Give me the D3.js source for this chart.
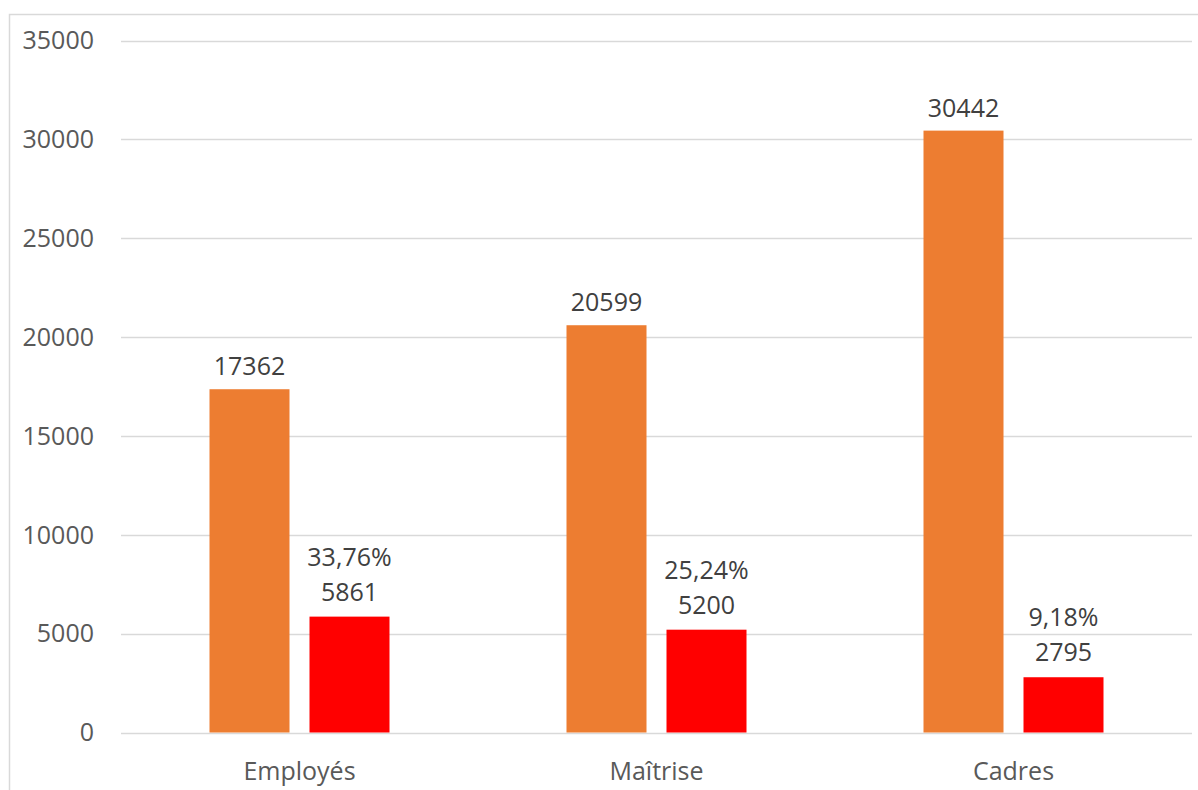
<!DOCTYPE html>
<html>
<head>
<meta charset="utf-8">
<script src="https://cdn.jsdelivr.net/npm/d3@7"></script>
<style>
  html, body { margin: 0; padding: 0; background: #fff; }
  svg { display: block; font-family: "Open Sans", "Noto Sans", sans-serif; }
</style>
</head>
<body>
<svg id="chart" width="1198" height="790"></svg>
<script>
const categories = ["Employés", "Maîtrise", "Cadres"];
const seriesNames = ["total", "part"];
const totalValues = [17362, 20599, 30442];
const partValues = [5861, 5200, 2795];
const percentLabels = ["33,76%", "25,24%", "9,18%"];
const yTicks = [0, 5000, 10000, 15000, 20000, 25000, 30000, 35000];
const colors = { total: "#ED7D31", part: "#FF0000" };

(function () {
const svg = d3.select("#chart");
const W = 1198, H = 790;
const mLeft = 121, mRight = 1192, mTop = 40.5, mBottom = 732.5;

// outer frame (cropped chart border)
svg.append("path")
  .attr("d", `M9.5,${H} L9.5,14.5 L${W},14.5`)
  .attr("fill", "none").attr("stroke", "#d9d9d9").attr("stroke-width", 1.5);

const y = d3.scaleLinear().domain([0, 35000]).range([mBottom, mTop]);
const x0 = d3.scaleBand().domain(categories).range([mLeft, mRight]).padding(0);
const x1 = d3.scaleBand().domain(seriesNames).range([0, x0.bandwidth()])
  .paddingInner(0.2).paddingOuter(0.885);

// gridlines
svg.append("g").selectAll("line").data(yTicks).join("line")
  .attr("x1", mLeft).attr("x2", mRight)
  .attr("y1", d => Math.round(y(d)) + 0.5).attr("y2", d => Math.round(y(d)) + 0.5)
  .attr("stroke", "#d9d9d9").attr("stroke-width", 1.3);

// y tick labels
svg.append("g").selectAll("text").data(yTicks).join("text")
  .attr("x", 94).attr("y", d => y(d))
  .attr("dy", "0.35em")
  .attr("text-anchor", "end")
  .attr("font-size", 25).attr("fill", "#595959")
  .text(d => d);

const data = categories.map((c, i) => ({
  cat: c, total: totalValues[i], part: partValues[i], pct: percentLabels[i]
}));

const groups = svg.append("g").selectAll("g").data(data).join("g")
  .attr("transform", d => `translate(${x0(d.cat)},0)`);

groups.append("rect")
  .attr("x", x1("total")).attr("width", x1.bandwidth())
  .attr("y", d => y(d.total)).attr("height", d => y(0) - y(d.total))
  .attr("fill", colors.total);

groups.append("rect")
  .attr("x", x1("part")).attr("width", x1.bandwidth())
  .attr("y", d => y(d.part)).attr("height", d => y(0) - y(d.part))
  .attr("fill", colors.part);

// data labels
groups.append("text")
  .attr("x", x1("total") + x1.bandwidth() / 2)
  .attr("y", d => y(d.total) - 14)
  .attr("text-anchor", "middle").attr("font-size", 25).attr("fill", "#404040")
  .text(d => d.total);

groups.append("text")
  .attr("x", x1("part") + x1.bandwidth() / 2)
  .attr("y", d => y(d.part) - 16)
  .attr("text-anchor", "middle").attr("font-size", 25).attr("fill", "#404040")
  .text(d => d.part);

groups.append("text")
  .attr("x", x1("part") + x1.bandwidth() / 2)
  .attr("y", d => y(d.part) - 51)
  .attr("text-anchor", "middle").attr("font-size", 25).attr("fill", "#404040")
  .text(d => d.pct);

// category labels
svg.append("g").selectAll("text").data(categories).join("text")
  .attr("x", d => x0(d) + x0.bandwidth() / 2)
  .attr("y", 780)
  .attr("text-anchor", "middle").attr("font-size", 25).attr("fill", "#595959")
  .text(d => d);
})();
</script>
</body>
</html>
